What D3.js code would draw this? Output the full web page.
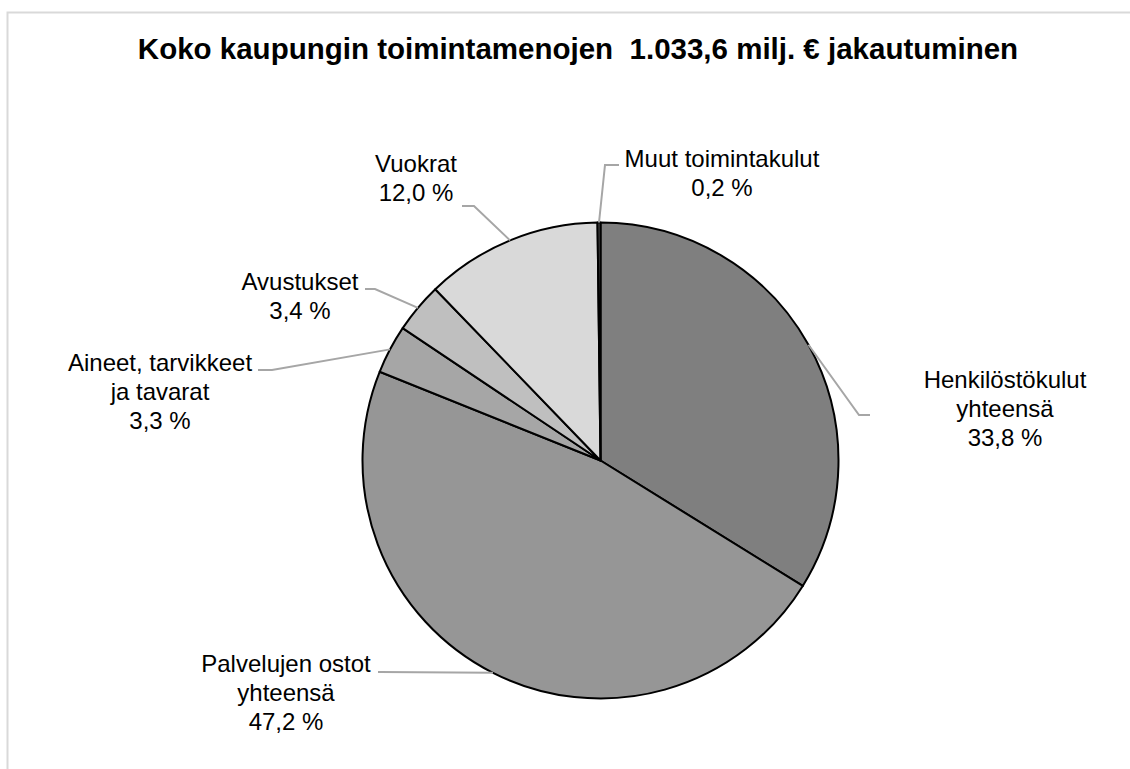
<!DOCTYPE html>
<html lang="fi">
<head>
<meta charset="utf-8">
<title>Toimintamenojen jakautuminen</title>
<script src="https://d3js.org/d3.v7.min.js"></script>
<style>
  body { margin: 0; background: #fff; }
  svg text { font-family: "Liberation Sans", Arial, sans-serif; }
</style>
</head>
<body>
<div id="chart"></div>
<script>
// data (slices clockwise from 12 o'clock)
var categories = ["Henkilöstökulut yhteensä", "Palvelujen ostot yhteensä", "Aineet, tarvikkeet ja tavarat",
                  "Avustukset", "Vuokrat", "Muut toimintakulut"];
var shares = [33.8, 47.2, 3.3, 3.4, 12.0, 0.2];
var labelLines = [["Henkilöstökulut", "yhteensä"], ["Palvelujen ostot", "yhteensä"], ["Aineet, tarvikkeet", "ja tavarat"],
                  ["Avustukset"], ["Vuokrat"], ["Muut toimintakulut"]];
var colors = ["#7f7f7f", "#969696", "#a6a6a6", "#bfbfbf", "#d9d9d9", "#595959"];

// label placement: text centre, first baseline, leader start and elbow
var labelPos = [
  {x: 1005, y: 388, lx: 870, ly: 415, ex: 859},
  {x: 286,  y: 672, lx: 378, ly: 672, ex: 380},
  {x: 160,  y: 371, lx: 258, ly: 370, ex: 272},
  {x: 300,  y: 290, lx: 365, ly: 289, ex: 375},
  {x: 416,  y: 172, lx: 462, ly: 206, ex: 474},
  {x: 722,  y: 167, lx: 619, ly: 165, ex: 605}
];

var width = 1130, height = 769;
var cx = 600.5, cy = 460.5, r = 238;

var svg = d3.select("#chart").append("svg")
  .attr("width", width)
  .attr("height", height);

// chart frame
svg.append("rect")
  .attr("x", 7.5).attr("y", 12.5)
  .attr("width", 1140).attr("height", 780)
  .attr("fill", "#fff")
  .attr("stroke", "#d9d9d9")
  .attr("stroke-width", 2);

svg.append("text")
  .attr("x", 578)
  .attr("y", 59)
  .attr("text-anchor", "middle")
  .attr("font-size", "29.5px")
  .attr("font-weight", "bold")
  .attr("fill", "#000")
  .attr("xml:space", "preserve")
  .text("Koko kaupungin toimintamenojen  1.033,6 milj. € jakautuminen");

var pie = d3.pie().sort(null).value(d => d);
var arcs = pie(shares);
var arc = d3.arc().innerRadius(0).outerRadius(r);
var edge = d3.arc().innerRadius(r).outerRadius(r);

var g = svg.append("g").attr("transform", `translate(${cx},${cy})`);

g.selectAll("path")
  .data(arcs)
  .enter().append("path")
  .attr("d", arc)
  .attr("fill", (d, i) => colors[i])
  .attr("stroke", "#000")
  .attr("stroke-width", 2)
  .attr("stroke-linejoin", "round");

// leader lines
svg.selectAll("polyline.leader")
  .data(arcs)
  .enter().append("polyline")
  .attr("class", "leader")
  .attr("fill", "none")
  .attr("stroke", "#a6a6a6")
  .attr("stroke-width", 2)
  .attr("points", (d, i) => {
    var p = labelPos[i];
    var c = edge.centroid(d);
    return [[p.lx, p.ly], [p.ex, p.ly], [cx + c[0], cy + c[1]]].map(q => q.join(",")).join(" ");
  });

// labels
var labels = svg.selectAll("text.lbl")
  .data(arcs)
  .enter().append("text")
  .attr("class", "lbl")
  .attr("text-anchor", "middle")
  .attr("font-size", "24px")
  .attr("fill", "#000");

labels.each(function(d, i) {
  var t = d3.select(this);
  var lines = labelLines[i].concat([shares[i].toFixed(1).replace(".", ",") + " %"]);
  lines.forEach((s, k) => {
    t.append("tspan")
      .attr("x", labelPos[i].x)
      .attr("y", labelPos[i].y + k * 29)
      .text(s);
  });
});
</script>
</body>
</html>
